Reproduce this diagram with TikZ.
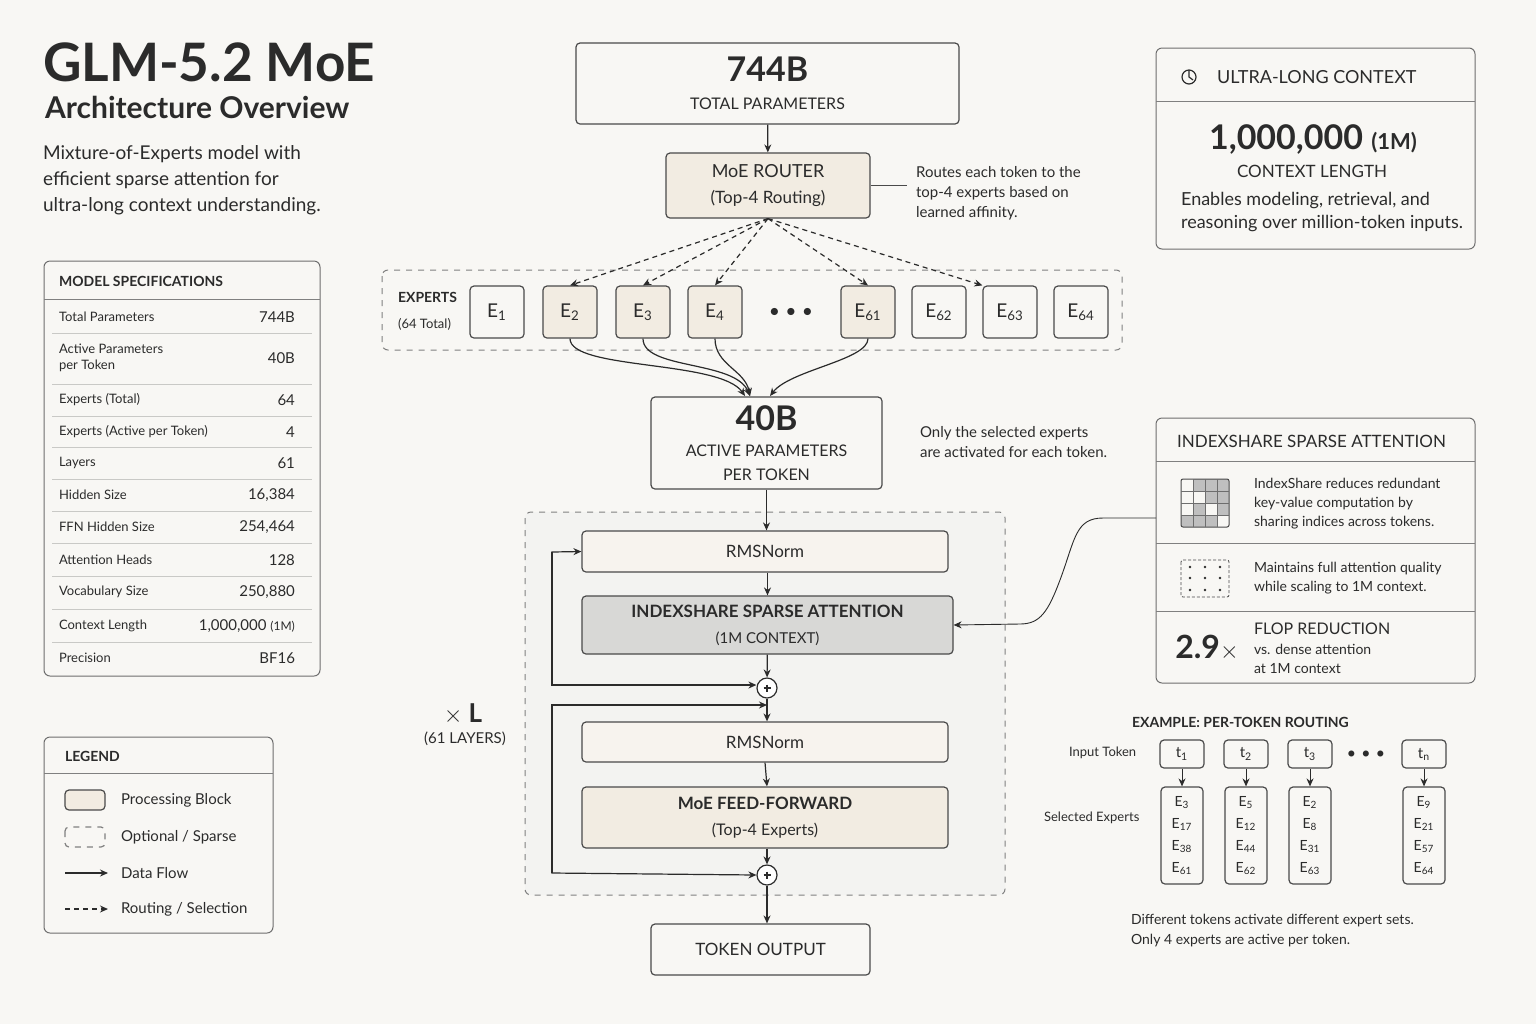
\documentclass[tikz,border=0pt]{standalone}
\usepackage{fontspec}
\setmainfont{Lato}
\usetikzlibrary{arrows.meta,positioning,calc}
\definecolor{ink}{HTML}{2B2B2B}
\definecolor{edge}{HTML}{4A4A4A}
\definecolor{beige}{HTML}{F2ECE2}
\definecolor{pale}{HTML}{F7F3EE}
\definecolor{attn}{HTML}{D8D8D6}
\definecolor{paper}{HTML}{F8F7F4}
\definecolor{rule}{HTML}{C9C9C6}
\tikzset{
  box/.style={draw=edge, rounded corners=2pt, line width=0.6pt, align=center, text=ink, inner sep=0pt},
  panel/.style={draw=edge!80, rounded corners=3pt, line width=0.5pt},
  flow/.style={-{Stealth[length=4pt,width=3.5pt]}, line width=0.6pt, draw=ink},
  route/.style={flow, dashed, dash pattern=on 2.5pt off 2pt},
  expert/.style={box, minimum width=27pt, minimum height=26pt, font=\fontsize{9.5}{11}\selectfont},
  chosen/.style={expert, fill=beige},
  tok/.style={box, minimum width=22pt, minimum height=14pt, font=\fontsize{7.5}{9}\selectfont},
  spec/.style={anchor=west, font=\fontsize{6.5}{8}\selectfont, text=ink, align=left},
  val/.style={anchor=east, font=\fontsize{7.5}{9}\selectfont, text=ink},
  note/.style={anchor=west, font=\fontsize{7.5}{10}\selectfont, text=ink, align=left},
  head/.style={anchor=west, font=\fontsize{8}{10}\selectfont\bfseries, text=ink},
  plus/.style={circle, draw=ink, line width=0.6pt, minimum size=10pt, inner sep=0pt, fill=white},
}
\begin{document}
\begin{tikzpicture}[x=0.5pt, y=-0.5pt]
  \fill[paper] (0,0) rectangle (1536,1024);
  \useasboundingbox (0,0) rectangle (1536,1024);

  % title block
  \node (title) [anchor=west, font=\fontsize{26.5}{28}\selectfont\bfseries, text=ink] at (36,62) {GLM-5.2 MoE};
  \node (subtitle) [anchor=west, font=\fontsize{15}{18}\selectfont\bfseries, text=ink] at (38,107) {Architecture Overview};
  \node (intro) [anchor=north west, font=\fontsize{9.5}{13}\selectfont, text=ink, align=left] at (36,138)
    {Mixture-of-Experts model with\\efficient sparse attention for\\ultra-long context understanding.};

  % model specifications
  \draw[panel] (44,261) rectangle (320,676);
  \node (spec_head) [head, font=\fontsize{7}{9}\selectfont\bfseries] at (52,281) {MODEL SPECIFICATIONS};
  \draw[edge!70, line width=0.5pt] (44,299) -- (320,299);
  \foreach \y/\k/\v in {317/Total Parameters/744B, 358/{Active Parameters\\per Token}/40B,
      400/Experts (Total)/64, 432/Experts (Active per Token)/4, 463/Layers/61,
      495/Hidden Size/{16,384}, 527/FFN Hidden Size/{254,464}, 560/Attention Heads/128,
      592/Vocabulary Size/{250,880}, 626/Context Length/{1,000,000 {\fontsize{6}{7}\selectfont(1M)}},
      658/Precision/BF16} {
    \node [spec] at (52,\y) {\k};
    \node [val] at (302,\y) {\v};
  }
  \foreach \y in {333,384,416,447,479,511,543,576,609,642}
    \draw[rule, line width=0.4pt] (52,\y) -- (312,\y);

  % legend
  \draw[panel] (44,737) rectangle (273,933);
  \node (leg_head) [head, font=\fontsize{7}{9}\selectfont\bfseries] at (58,756) {LEGEND};
  \draw[edge!70, line width=0.5pt] (44,773) -- (273,773);
  \draw[box, fill=beige] (65,790) rectangle (105,810);
  \draw[box, dashed, draw=edge!70] (65,827) rectangle (105,847);
  \coordinate (lf_a) at (65,873); \coordinate (lf_b) at (108,873);
  \draw[flow] (lf_a) -- (lf_b);
  \coordinate (lr_a) at (65,909); \coordinate (lr_b) at (108,909);
  \draw[route] (lr_a) -- (lr_b);
  \foreach \y/\t in {800/{Processing Block}, 837/{Optional / Sparse}, 873/{Data Flow}, 909/{Routing / Selection}}
    \node [note] at (114,\y) {\t};

  % central stack
  \node (total) [box, minimum width=191.5pt, minimum height=40.5pt] at (767.5,83.5)
    {{\fontsize{17}{19}\selectfont\bfseries 744B}\\[2pt]{\fontsize{8}{10}\selectfont TOTAL PARAMETERS}};
  \node (router) [box, fill=beige, minimum width=102pt, minimum height=32.5pt] at (768,185.5)
    {{\fontsize{9}{11}\selectfont MoE ROUTER}\\[1pt]{\fontsize{8.5}{10}\selectfont (Top-4 Routing)}};
  \draw[flow] (total) -- (router);
  \node (router_note) [note] at (909,193) {Routes each token to the\\top-4 experts based on\\learned affinity.};
  \draw[edge, line width=0.4pt] (router.east) -- ++(36,0);

  % experts
  \draw[panel, dashed, draw=edge!70, fill=paper] (382,270) rectangle (1122,350);
  \node (exp_lbl) [anchor=west, align=left, text=ink] at (391,311)
    {{\fontsize{7}{9}\selectfont\bfseries EXPERTS}\\[1pt]{\fontsize{6.5}{8}\selectfont (64 Total)}};
  \node (e1) [expert] at (497,312) {E\textsubscript{1}};
  \node (e2) [chosen] at (570,312) {E\textsubscript{2}};
  \node (e3) [chosen] at (643,312) {E\textsubscript{3}};
  \node (e4) [chosen] at (715,312) {E\textsubscript{4}};
  \node (edots) [font=\fontsize{9}{9}\selectfont, text=ink] at (791,312) {$\bullet\,\bullet\,\bullet$};
  \node (e61) [chosen] at (868,312) {E\textsubscript{61}};
  \node (e62) [expert] at (939,312) {E\textsubscript{62}};
  \node (e63) [expert] at (1010,312) {E\textsubscript{63}};
  \node (e64) [expert] at (1081,312) {E\textsubscript{64}};
  \foreach \e in {e2,e3,e4,e61} \draw[route] (router.south) -- (\e.north);
  \draw[route] (router.south) -- (e63.north west);

  \node (active) [box, minimum width=115.5pt, minimum height=46pt] at (766.5,443)
    {{\fontsize{17}{19}\selectfont\bfseries 40B}\\[1pt]{\fontsize{8}{10}\selectfont ACTIVE PARAMETERS}\\{\fontsize{8}{10}\selectfont PER TOKEN}};
  \draw[flow] (e2.south) .. controls (570,370) and (720,360) .. (745,396);
  \draw[flow] (e3.south) .. controls (643,370) and (735,360) .. (750,396);
  \draw[flow] (e4.south) .. controls (715,365) and (745,370) .. (750,396);
  \draw[flow] (e61.south) .. controls (868,360) and (790,370) .. (770,396);
  \node (active_note) [note] at (913,442) {Only the selected experts\\are activated for each token.};

  % layer block
  \draw[panel, dashed, draw=edge!70, fill=paper!60!white!97!black] (525,512) rectangle (1005,895);
  \node (norm1) [box, fill=pale, minimum width=183pt, minimum height=20.5pt, font=\fontsize{8.5}{10}\selectfont] at (765,551.5) {RMSNorm};
  \node (attn) [box, fill=attn, minimum width=185.5pt, minimum height=29pt] at (767.5,625)
    {{\fontsize{8.5}{10}\selectfont\bfseries INDEXSHARE SPARSE ATTENTION}\\[1pt]{\fontsize{7.5}{9}\selectfont (1M CONTEXT)}};
  \node (add1) [plus] at (767,688) {};
  \draw[ink, line width=0.6pt] ($(add1.center)+(-3.5,0)$) -- ++(7,0) ($(add1.center)+(0,-3.5)$) -- ++(0,7);
  \node (norm2) [box, fill=pale, minimum width=183pt, minimum height=20pt, font=\fontsize{8.5}{10}\selectfont] at (765,742) {RMSNorm};
  \node (ffn) [box, fill=beige, minimum width=183pt, minimum height=30.5pt] at (765,817.5)
    {{\fontsize{8.5}{10}\selectfont\bfseries MoE FEED-FORWARD}\\[1pt]{\fontsize{8}{10}\selectfont (Top-4 Experts)}};
  \node (add2) [plus] at (767,875) {};
  \draw[ink, line width=0.6pt] ($(add2.center)+(-3.5,0)$) -- ++(7,0) ($(add2.center)+(0,-3.5)$) -- ++(0,7);
  \node (out) [box, minimum width=109.5pt, minimum height=25.5pt, font=\fontsize{8.5}{10}\selectfont] at (760.5,949.5) {TOKEN OUTPUT};

  \draw[flow] (active) -- (active.south |- norm1.north);
  \draw[flow] (norm1.south -| attn) -- (attn.north);
  \draw[flow] (attn) -- (add1);
  \draw[flow] (add1) -- (add1 |- norm2.north);
  \draw[flow] (norm2.south -| ffn) -- (ffn.north -| add2);
  \draw[flow] (ffn.south -| add2) -- (add2);
  \draw[flow] (add2) -- (add2 |- out.north);
  % residual paths
  \coordinate (res1_top) at (552,552);
  \coordinate (res1_bot) at (552,685);
  \draw[flow] (res1_bot) -- (res1_top) -- (norm1.west);
  \draw[flow] (res1_top) -- (res1_bot) -- (add1.west |- res1_bot);
  \coordinate (res2_top) at (552,705);
  \coordinate (res2_bot) at (552,873);
  \draw[flow] (res2_bot) -- (res2_top) -- (767,705);
  \draw[flow] (res2_top) -- (res2_bot) -- (add2.west);
  \node (rep) [font=\fontsize{13}{15}\selectfont\bfseries, text=ink] at (463,714) {$\times$\ L};
  \node (rep_n) [font=\fontsize{7.5}{9}\selectfont, text=ink] at (465,739) {(61 LAYERS)};

  % ultra-long context panel
  \draw[panel] (1156,48) rectangle (1475,249);
  \draw[ink, line width=0.6pt] (1189,77) circle (7);
  \draw[ink, line width=0.6pt] (1189,70) -- (1189,77) -- (1193,80);
  \node (ctx_head) [head, font=\fontsize{9}{11}\selectfont] at (1210,77) {ULTRA-LONG CONTEXT};
  \draw[edge!70, line width=0.5pt] (1156,101) -- (1475,101);
  \node (ctx_num) [font=\fontsize{17}{19}\selectfont\bfseries, text=ink] at (1313,139) {1,000,000 {\fontsize{11}{13}\selectfont(1M)}};
  \node (ctx_lbl) [font=\fontsize{8.5}{10}\selectfont, text=ink] at (1312,171) {CONTEXT LENGTH};
  \node (ctx_note) [note, font=\fontsize{9}{11.5}\selectfont] at (1174,212) {Enables modeling, retrieval, and\\reasoning over million-token inputs.};

  % indexshare panel
  \draw[panel] (1156,418) rectangle (1475,683);
  \node (is_head) [head, font=\fontsize{8.5}{10}\selectfont] at (1170,441) {INDEXSHARE SPARSE ATTENTION};
  \draw[edge!70, line width=0.5pt] (1156,461) -- (1475,461);
  \foreach \c/\r in {1/0,2/0,3/0,2/1,3/1,1/2,3/2,0/3,1/3,2/3}
    \fill[black!25] ({1181+12*\c},{479+12*\r}) rectangle ++(12,12);
  \draw[edge, line width=0.5pt, rounded corners=1pt] (1181,479) rectangle (1229,527);
  \foreach \i in {1,2,3} {
    \draw[edge!80, line width=0.3pt] ({1181+12*\i},479) -- ({1181+12*\i},527);
    \draw[edge!80, line width=0.3pt] (1181,{479+12*\i}) -- (1229,{479+12*\i});
  }
  \node (is_note1) [note, font=\fontsize{7}{9.5}\selectfont] at (1247,504) {IndexShare reduces redundant\\key-value computation by\\sharing indices across tokens.};
  \draw[edge!70, line width=0.5pt] (1156,543) -- (1475,543);
  \draw[edge, line width=0.4pt, dashed, dash pattern=on 1.5pt off 1pt, rounded corners=1pt] (1181,560) rectangle (1229,597);
  \foreach \x in {1190,1205,1220} \foreach \y in {567,578,590} \fill[ink] (\x,\y) circle (1.3);
  \node (is_note2) [note, font=\fontsize{7}{9.5}\selectfont] at (1247,578) {Maintains full attention quality\\while scaling to 1M context.};
  \draw[edge!70, line width=0.5pt] (1156,611) -- (1475,611);
  \node (flop) [font=\fontsize{16}{18}\selectfont\bfseries, text=ink] at (1207,648) {2.9{\fontsize{13}{13}\selectfont$\times$}};
  \node (flop_head) [note, font=\fontsize{8}{10}\selectfont] at (1247,629) {FLOP REDUCTION};
  \node (flop_note) [note, font=\fontsize{7}{9.5}\selectfont] at (1247,659) {vs. dense attention\\at 1M context};
  \coordinate (is_link) at (1156,518);
  \draw[flow, line width=0.45pt] (is_link) -- (1103,518) .. controls (1075,518) and (1075,540) .. (1060,580)
    .. controls (1048,612) and (1040,624) .. (1020,624) -- (attn.east);

  % per-token routing example
  \node (ex_head) [head, font=\fontsize{7}{9}\selectfont\bfseries] at (1125,722) {EXAMPLE: PER-TOKEN ROUTING};
  \node (in_lbl) [note, font=\fontsize{6.5}{8}\selectfont] at (1062,753) {Input Token};
  \node (sel_lbl) [note, font=\fontsize{6.5}{8}\selectfont] at (1037,818) {Selected Experts};
  \foreach \n/\x/\t/\a/\b/\c/\d in {1/1182/1/3/17/38/61, 2/1246/2/5/12/44/62, 3/1310/3/2/8/31/63, n/1424/n/9/21/57/64} {
    \node (t\n) [tok] at (\x,754) {t\textsubscript{\t}};
    \node (s\n) [box, minimum width=21pt, minimum height=48.5pt, font=\fontsize{7}{11}\selectfont] at (\x,835.5)
      {E\textsubscript{\a}\\E\textsubscript{\b}\\E\textsubscript{\c}\\E\textsubscript{\d}};
    \draw[flow, line width=0.45pt] (t\n) -- (s\n);
  }
  \node (tdots) [font=\fontsize{7}{7}\selectfont, text=ink] at (1366,754) {$\bullet\,\bullet\,\bullet$};
  \node (ex_note) [note, font=\fontsize{7}{10}\selectfont] at (1124,931) {Different tokens activate different expert sets.\\Only 4 experts are active per token.};
\end{tikzpicture}
\end{document}
